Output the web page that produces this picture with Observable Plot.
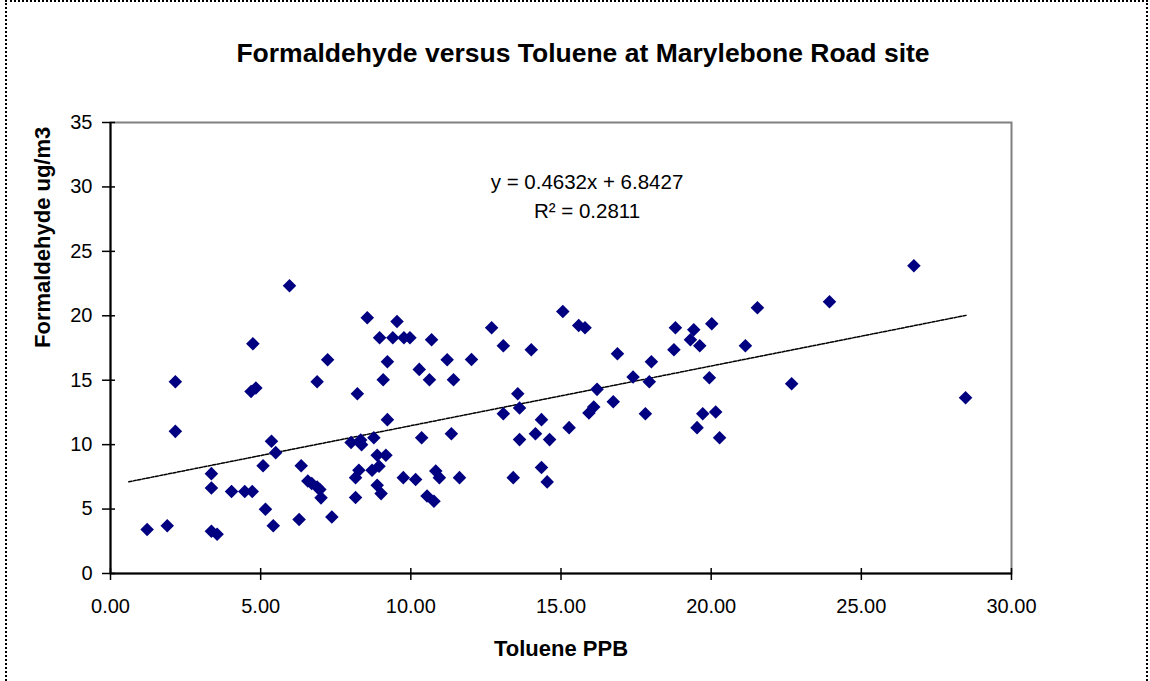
<!DOCTYPE html>
<html>
<head>
<meta charset="utf-8">
<script src="https://cdn.jsdelivr.net/npm/d3@7"></script>
<script src="https://cdn.jsdelivr.net/npm/@observablehq/plot@0.6"></script>
<style>
  html, body { margin: 0; padding: 0; background: #fff; }
  #wrap { position: relative; width: 1150px; height: 681px; overflow: hidden; }
  #border { position: absolute; left: 5px; top: 0px; width: 1143px; height: 720px; border: 2px dotted #000; box-sizing: border-box; }
  #chart { position: absolute; left: 0; top: 0; }
</style>
</head>
<body>
<div id="wrap"><div id="border"></div><div id="chart"></div></div>
<script>
const titleText = "Formaldehyde versus Toluene at Marylebone Road site";
const xLabel = "Toluene PPB";
const yLabel = "Formaldehyde ug/m3";
const equationText = "y = 0.4632x + 6.8427\nR² = 0.2811";

const xTicks = [0, 5, 10, 15, 20, 25, 30];
const xTickLabels = ["0.00", "5.00", "10.00", "15.00", "20.00", "25.00", "30.00"];
const yTicks = [0, 5, 10, 15, 20, 25, 30, 35];
const yTickLabels = ["0", "5", "10", "15", "20", "25", "30", "35"];

const toluene = [
  1.22, 1.89, 2.16, 2.16, 3.36, 3.36, 3.36, 3.55, 4.03, 4.47, 4.72, 4.74, 4.68, 4.84, 5.08, 5.16, 5.36, 5.50, 5.42, 5.96,
  6.35, 6.28, 6.57, 6.70, 6.88, 6.97, 7.01, 6.88, 7.23, 7.37,
  8.55, 9.54, 8.96, 9.40, 9.77, 9.97, 10.69, 9.22, 9.08, 10.28, 10.62, 11.21, 11.42, 12.02, 12.69, 13.08, 14.01, 15.06, 15.59, 15.80,
  8.22, 9.22, 13.56, 13.62, 13.08, 14.35, 15.27, 15.93,
  8.01, 8.33, 8.36, 8.77, 10.36, 11.35, 14.15, 13.62, 14.62,
  8.88, 9.17, 8.71, 8.94, 8.27, 8.16, 9.75, 10.16, 10.83, 10.95, 11.62,
  8.88, 9.01, 8.16, 10.54, 10.77, 13.41, 14.35, 14.54,
  16.20, 16.09, 16.74, 16.88, 17.40, 18.01, 17.94, 17.81, 18.81, 18.76, 19.42, 19.31, 19.62, 20.02, 19.94, 19.72, 19.53,
  20.15, 20.28, 21.14, 21.54, 22.68, 23.94,
  26.75, 28.47
];
const formaldehyde = [
  3.41, 3.70, 14.88, 11.03, 7.75, 6.64, 3.28, 3.05, 6.36, 6.36, 6.36, 17.83, 14.13, 14.39, 8.37, 4.99, 10.26, 9.38, 3.70, 22.33,
  8.37, 4.19, 7.18, 6.98, 6.72, 6.51, 5.87, 14.88, 16.59, 4.39,
  19.84, 19.56, 18.29, 18.29, 18.29, 18.29, 18.14, 16.43, 15.04, 15.84, 15.04, 16.59, 15.04, 16.61, 19.07, 17.67, 17.36, 20.34, 19.25, 19.07,
  13.95, 11.94, 13.95, 12.84, 12.40, 11.94, 11.32, 12.45,
  10.16, 10.36, 10.00, 10.54, 10.54, 10.85, 10.85, 10.39, 10.39,
  9.17, 9.17, 8.01, 8.32, 8.01, 7.44, 7.44, 7.29, 7.96, 7.44, 7.44,
  6.85, 6.20, 5.89, 6.02, 5.61, 7.44, 8.22, 7.11,
  14.29, 12.92, 13.33, 17.05, 15.25, 16.43, 14.88, 12.40, 19.07, 17.36, 18.91, 18.14, 17.67, 19.38, 15.19, 12.40, 11.32,
  12.53, 10.54, 17.67, 20.62, 14.73, 21.09,
  23.88, 13.64
];

// trend line endpoints as drawn in the picture
const trendX = [0.61, 28.5];
const trendY = [7.12, 20.04];

const points = toluene.map((t, i) => ({x: t, y: formaldehyde[i]}));
const trend = trendX.map((t, i) => ({x: t, y: trendY[i]}));

const font = "'Liberation Sans', Arial, sans-serif";

const chart = Plot.plot({
  width: 1150,
  height: 681,
  marginLeft: 110,
  marginRight: 139,
  marginTop: 122,
  marginBottom: 108,
  style: {fontFamily: font, fontSize: "20px", background: "transparent", color: "#000", overflow: "visible"},
  x: {domain: [0, 30], ticks: xTicks, label: null},
  y: {domain: [0, 35], ticks: yTicks, label: null},
  marks: [
    Plot.frame({stroke: "#808080", strokeWidth: 2}),
    Plot.line(trend, {x: "x", y: "y", stroke: "#000", strokeWidth: 1.5, strokeDasharray: "3,1.5"}),
    Plot.dot(points, {x: "x", y: "y", symbol: "diamond2", r: 6.1, fill: "#000080", stroke: "none"}),
    Plot.ruleX([0], {stroke: "#000", strokeWidth: 2}),
    Plot.ruleY([0], {stroke: "#000", strokeWidth: 2}),
    Plot.axisX({ticks: xTicks, tickFormat: (d) => xTickLabels[xTicks.indexOf(d)], tickSize: 12, dy: -5, tickPadding: 18, strokeWidth: 1.5, fontSize: 20, label: null}),
    Plot.axisY({ticks: yTicks, tickFormat: (d) => yTickLabels[yTicks.indexOf(d)], tickSize: 13, dx: 5, tickPadding: 10, strokeWidth: 1.5, fontSize: 20, label: null}),
    Plot.text([titleText], {frameAnchor: "top", dx: 22, dy: -69, lineAnchor: "middle", fontWeight: "bold", fontSize: 26.5, fill: "#000"}),
    Plot.text([equationText], {frameAnchor: "top", dx: 26, dy: 45, lineAnchor: "top", fontSize: 20.5, lineHeight: 1.45, fill: "#000"}),
    Plot.text([xLabel], {frameAnchor: "bottom", dx: 0, dy: 75, lineAnchor: "middle", fontWeight: "bold", fontSize: 22, fill: "#000"}),
    Plot.text([yLabel], {frameAnchor: "left", dx: -68, dy: 0, rotate: -90, lineAnchor: "middle", fontWeight: "bold", fontSize: 22, fill: "#000"})
  ]
});
document.getElementById("chart").appendChild(chart);
</script>
</body>
</html>
